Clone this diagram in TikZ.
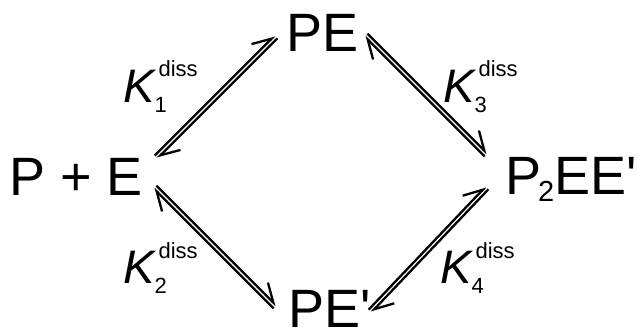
\documentclass[tikz,border=0pt]{standalone}
\usepackage{fontspec}
\newfontfamily\lsans{Liberation Sans}
\usetikzlibrary{arrows.meta,calc}

% sizes for species, constants and their indices
\newcommand\bigsz{\fontsize{54pt}{60pt}\selectfont}
\newcommand\ksz{\fontsize{47pt}{50pt}\selectfont}
\newcommand\subsz{\fontsize{22pt}{24pt}\selectfont}
% dissociation constant K_n^diss
\newcommand\kdiss[1]{\ksz\itshape K\upshape\rlap{\raisebox{-10pt}{\subsz #1}}\kern4pt\raisebox{25pt}{\subsz diss}}

% half of an equilibrium arrow: offset to the left of (#1)->(#2), harpoon at (#2)
\newcommand\harpline[2]{\draw[harp] ($(#1)!\harpoff!90:(#2)$) -- ($(#2)!\harpoff!-90:(#1)$);}
\newcommand\eqharp[2]{\harpline{#1}{#2}\harpline{#2}{#1}}
\newcommand\harpoff{1.9pt}

\tikzset{
  species/.style={font=\lsans\bigsz, inner sep=0pt, anchor=base west},
  klabel/.style={font=\lsans, inner sep=0pt, anchor=base west},
  harp/.style={line width=2.3pt,
    -{Straight Barb[left, length=18pt, angle'=60, line cap=butt, line join=miter]}}
}

\begin{document}
\begin{tikzpicture}[x=1pt, y=-1pt]
  \useasboundingbox (0,0) rectangle (637,329);

  % species
  \node[species] (pe)   at (286,52)  {PE};
  \node[species] (ppe)  at (9,195)   {P + E};
  \node[species] (p2e)  at (505,194) {P\kern-3pt\raisebox{-7pt}{\fontsize{29pt}{30pt}\selectfont 2}EE'};
  \node[species] (pep)  at (288,327) {PE'};

  % dissociation constants
  \node[klabel] (k1) at (123,102) {\kdiss{1}};
  \node[klabel] (k3) at (443,102) {\kdiss{3}};
  \node[klabel] (k2) at (123,283) {\kdiss{2}};
  \node[klabel] (k4) at (440,283) {\kdiss{4}};

  % arrow end points
  \coordinate (tlA) at (156,157);
  \coordinate (tlB) at (276,37);
  \coordinate (trA) at (366,35);
  \coordinate (trB) at (486,155);
  \coordinate (blA) at (155,187);
  \coordinate (blB) at (275,307);
  \coordinate (brA) at (370,311);
  \coordinate (brB) at (487,188);

  % equilibrium arrows
  \eqharp{tlA}{tlB}
  \eqharp{trA}{trB}
  \eqharp{blA}{blB}
  \eqharp{brA}{brB}
\end{tikzpicture}
\end{document}
